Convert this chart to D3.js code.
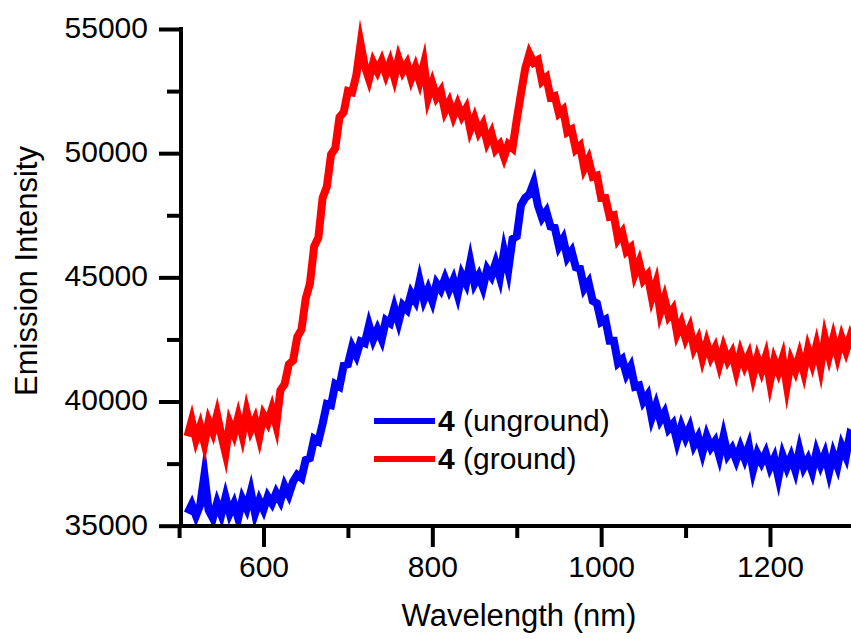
<!DOCTYPE html>
<html>
<head>
<meta charset="utf-8">
<script src="https://cdn.jsdelivr.net/npm/d3@7"></script>
<style>
  html, body { margin: 0; padding: 0; background: #fff; }
  svg { display: block; }
  text { font-family: "Liberation Sans", Arial, sans-serif; fill: #000; }
</style>
</head>
<body>
<svg id="chart" width="851" height="639"></svg>
<script>
// ---- data ----
const wavelengths = [
  510,515,520,525,530,535,540,545,550,555,560,565,570,575,580,585,590,595,600,605,
  610,615,620,625,630,635,640,645,650,655,660,665,670,675,680,685,690,695,700,705,
  710,715,720,725,730,735,740,745,750,755,760,765,770,775,780,785,790,795,800,805,
  810,815,820,825,830,835,840,845,850,855,860,865,870,875,880,885,890,895,900,905,
  910,915,920,925,930,935,940,945,950,955,960,965,970,975,980,985,990,995,1000,1005,
  1010,1015,1020,1025,1030,1035,1040,1045,1050,1055,1060,1065,1070,1075,1080,1085,1090,1095,1100,1105,
  1110,1115,1120,1125,1130,1135,1140,1145,1150,1155,1160,1165,1170,1175,1180,1185,1190,1195,1200,1205,
  1210,1215,1220,1225,1230,1235,1240,1245,1250,1255,1260,1265,1270,1275,1280,1285,1290,1295,1300
];
const unground = [
  35500,35850,35400,35830,37050,35620,35300,35920,35450,36150,35500,35880,35300,36070,35700,36370,35500,36020,35650,36170,
  35900,36320,36000,36600,36250,36770,37050,36920,37650,37720,38500,38400,39100,39900,39850,40700,40600,41450,41500,42200,
  41850,42420,42350,43070,42500,42900,42500,43270,43150,43770,43200,43870,43700,44350,44050,44850,44100,44520,44050,44750,
  44500,44950,44500,44900,44300,45100,44750,45620,44750,45070,44600,45320,45050,45570,45000,46050,45300,46550,46650,47900,
  48200,48350,48800,47900,47400,47650,47050,47000,46250,46550,45800,46050,45400,45350,44550,44800,44050,43950,43200,43300,
  42450,42450,41550,41700,41100,41400,40600,40650,40000,40250,39350,39850,39250,39550,38900,39100,38400,39000,38550,38950,
  38250,38570,37950,38600,38150,38400,37800,38600,37850,38100,37650,38150,37700,38200,37250,37900,37550,37920,37350,37720,
  36950,37820,37350,37770,37230,38040,37350,37670,37180,37950,37450,37880,37150,37880,37400,38200,37800,38700,38600
];
const ground = [
  38600,39230,38480,39000,38320,39200,38770,39460,38650,37930,39120,38690,39370,38650,39580,38870,39270,38580,39450,39150,
  39700,39050,40450,40700,41500,41650,42600,42900,44150,44750,46250,46600,48200,48650,49950,50200,51450,51650,52500,52450,
  53150,54400,53500,52980,53650,53300,53700,53180,53650,53050,53800,53300,53600,53000,53450,52900,53600,52250,52800,52250,
  52500,51700,52050,51500,51950,51500,51800,50950,51400,50850,51150,50450,50800,50150,50350,49850,50350,50200,51350,52400,
  53400,54000,53650,53750,52900,53050,52250,52300,51600,51750,50850,50950,50150,50300,49400,49750,49050,49100,48200,48200,
  47450,47500,46550,46800,46050,46200,45150,45600,44900,45100,44200,44750,43600,44150,43450,43700,42750,43150,42550,42950,
  42150,42500,41750,42350,41800,42150,41500,42150,41650,41950,41250,41950,41450,41850,41050,41750,41250,41800,40800,41650,
  41200,41750,40650,41650,41250,41850,41200,42100,41550,42250,41400,42550,41850,42550,41850,42550,42050,42600,42150
];
const seriesNames = ["unground", "ground"];
const seriesColors = ["#0000ff", "#ff0000"];
const yMajorTicks = [35000, 40000, 45000, 50000, 55000];
const yMinorTicks = [37500, 42500, 47500, 52500];
const xMajorTicks = [600, 800, 1000, 1200];
const xMinorTicks = [500, 700, 900, 1100, 1300];

// ---- layout ----
const svg = d3.select("#chart");
const axisX = 181;      // y-axis position
const axisY = 526;      // x-axis position
const x = d3.scaleLinear().domain([500, 1300]).range([179.1, 854.4]);
const y = d3.scaleLinear().domain([35000, 55000]).range([525.7, 29]);

svg.append("defs").append("clipPath").attr("id", "plotclip")
  .append("rect").attr("x", axisX).attr("y", 0).attr("width", 851 - axisX).attr("height", axisY - 2);

const line = d3.line()
  .x((d, i) => x(wavelengths[i]))
  .y(d => y(d))
  .curve(d3.curveLinear);

const plot = svg.append("g").attr("clip-path", "url(#plotclip)");
[unground, ground].forEach((vals, k) => {
  plot.append("path")
    .datum(vals)
    .attr("d", line)
    .attr("fill", "none")
    .attr("stroke", seriesColors[k])
    .attr("stroke-width", 8)
    .attr("stroke-linejoin", "miter")
    .attr("stroke-miterlimit", 10);
});

// ---- axes ----
function styleAxis(g) {
  g.selectAll(".domain").remove();
  g.selectAll(".tick line").attr("stroke", "#000").attr("stroke-width", 4);
  g.selectAll(".tick text")
    .style("font-family", '"Liberation Sans", Arial, sans-serif')
    .style("font-size", "30px")
    .attr("fill", "#000");
}

// y axis
const gy = svg.append("g").attr("transform", `translate(${axisX},0)`);
gy.call(d3.axisLeft(y).tickValues(yMajorTicks).tickSize(22).tickPadding(11).tickFormat(d3.format("d")))
  .call(styleAxis);
gy.selectAll(".tick text").attr("dy", "0.28em");
const gyMinor = svg.append("g").attr("transform", `translate(${axisX},0)`);
gyMinor.call(d3.axisLeft(y).tickValues(yMinorTicks).tickSize(14).tickFormat(""))
  .call(styleAxis);

// x axis
const gx = svg.append("g").attr("transform", `translate(0,${axisY})`);
gx.call(d3.axisBottom(x).tickValues(xMajorTicks).tickSize(21).tickPadding(9).tickFormat(d3.format("d")))
  .call(styleAxis);
const gxMinor = svg.append("g").attr("transform", `translate(0,${axisY})`);
gxMinor.call(d3.axisBottom(x).tickValues(xMinorTicks).tickSize(12).tickFormat(""))
  .call(styleAxis);

// axis lines
svg.append("line").attr("x1", axisX).attr("x2", axisX)
  .attr("y1", y(55000) - 2).attr("y2", axisY + 2)
  .attr("stroke", "#000").attr("stroke-width", 4);
svg.append("line").attr("x1", axisX - 2).attr("x2", 851)
  .attr("y1", axisY).attr("y2", axisY)
  .attr("stroke", "#000").attr("stroke-width", 4);

// axis titles
svg.append("text")
  .attr("x", 519).attr("y", 626)
  .attr("text-anchor", "middle")
  .style("font-size", "31px")
  .text("Wavelength (nm)");
svg.append("text")
  .attr("transform", "translate(37,271) rotate(-90)")
  .attr("text-anchor", "middle")
  .style("font-size", "31px")
  .text("Emission Intensity");

// ---- legend ----
const legendRows = [
  { name: seriesNames[0], color: seriesColors[0], yy: 421 },
  { name: seriesNames[1], color: seriesColors[1], yy: 459 }
];
const lg = svg.append("g");
legendRows.forEach(r => {
  lg.append("line").attr("x1", 374).attr("x2", 435).attr("y1", r.yy).attr("y2", r.yy)
    .attr("stroke", r.color).attr("stroke-width", 6);
  const t = lg.append("text").attr("x", 438).attr("y", r.yy + 10).style("font-size", "30px");
  t.append("tspan").style("font-weight", "bold").text("4");
  t.append("tspan").text(" (" + r.name + ")");
});
</script>
</body>
</html>
